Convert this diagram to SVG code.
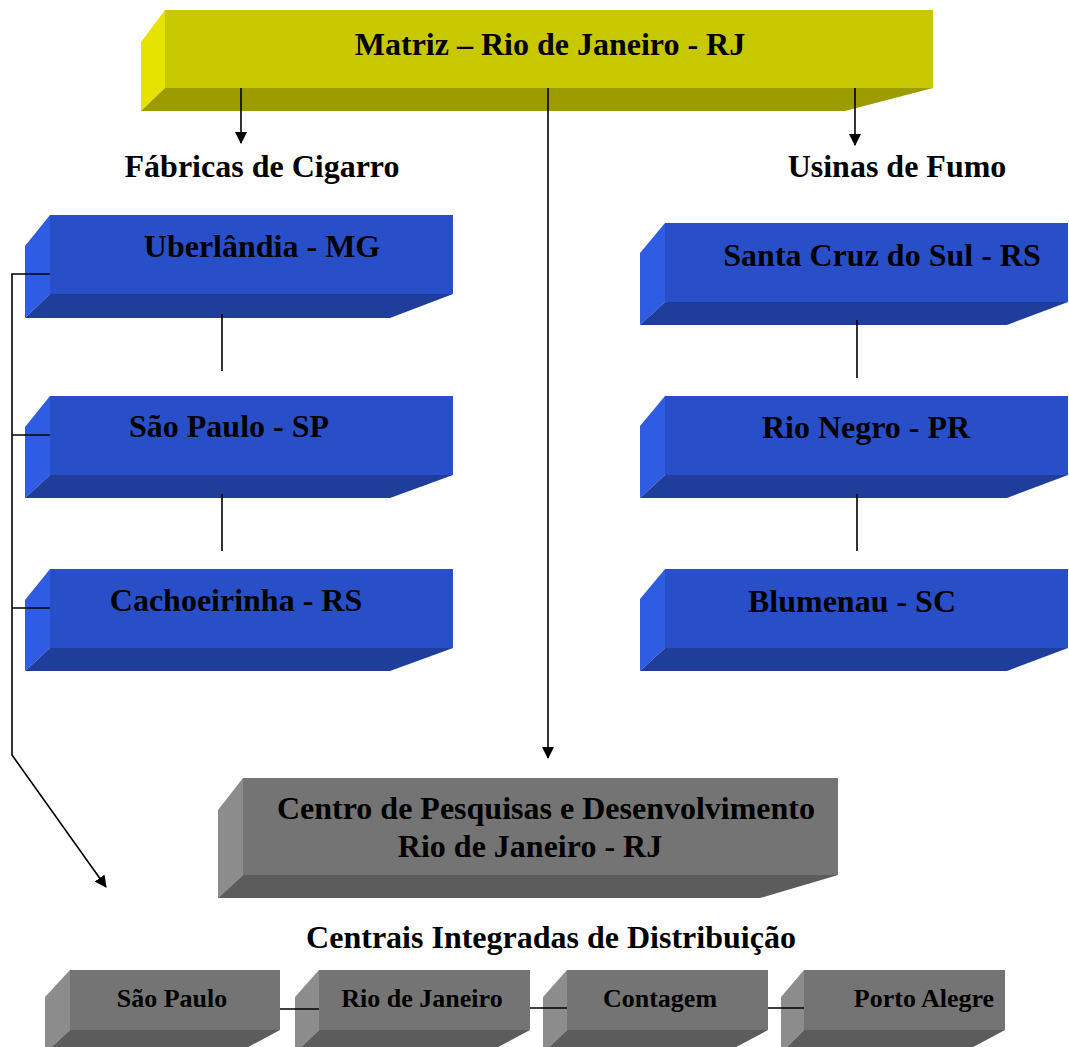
<svg xmlns="http://www.w3.org/2000/svg" width="1069" height="1047" viewBox="0 0 1069 1047">
<defs>
<style>
text{font-family:"Liberation Serif","Times New Roman",serif;font-weight:bold;fill:#000;text-anchor:middle}
.big{font-size:32px}
.sm{font-size:26px}
.yf{fill:#C8C800}.yl{fill:#E4E400}.yb{fill:#9C9C00}
.bf{fill:#284FC8}.bl{fill:#2E5CE2}.bb{fill:#1F3E9C}
.gf{fill:#747474}.gl{fill:#8C8C8C}.gb{fill:#5C5C5C}
.ln{stroke:#000;stroke-width:1.6;fill:none}
</style>
<marker id="ar" viewBox="0 0 12 12" refX="11" refY="6" markerWidth="12" markerHeight="12" markerUnits="userSpaceOnUse" orient="auto">
<path d="M0,0 L12,6 L0,12 Z" fill="#000"/>
</marker>
</defs>
<rect width="1069" height="1047" fill="#fff"/>

<g id="matriz">
<polygon class="yf" points="165,10 933,10 933,88 165,88"/>
<polygon class="yl" points="141,42 165,10 165,88 141,111"/>
<polygon class="yb" points="141,111 165,88 933,88 845,111"/>
<text class="big" x="550" y="55">Matriz – Rio de Janeiro - RJ</text>
</g>

<g id="lbl-fabricas"><text class="big" x="262" y="177">Fábricas de Cigarro</text></g>
<g id="lbl-usinas"><text class="big" x="897" y="177">Usinas de Fumo</text></g>

<g id="uberlandia">
<polygon class="bf" points="50,215 453,215 453,294 50,294"/>
<polygon class="bl" points="25,246 50,215 50,294 25,318"/>
<polygon class="bb" points="25,318 50,294 453,294 390,318"/>
<text class="big" x="262" y="257">Uberlândia - MG</text>
</g>
<g id="saopaulo-sp">
<polygon class="bf" points="50,396 453,396 453,475 50,475"/>
<polygon class="bl" points="25,427 50,396 50,475 25,498"/>
<polygon class="bb" points="25,498 50,475 453,475 390,498"/>
<text class="big" x="229" y="437">São Paulo - SP</text>
</g>
<g id="cachoeirinha">
<polygon class="bf" points="50,569 453,569 453,648 50,648"/>
<polygon class="bl" points="25,600 50,569 50,648 25,671"/>
<polygon class="bb" points="25,671 50,648 453,648 390,671"/>
<text class="big" x="236" y="611">Cachoeirinha - RS</text>
</g>

<g id="santacruz">
<polygon class="bf" points="665,223 1068,223 1068,302 665,302"/>
<polygon class="bl" points="640,253 665,223 665,302 640,325"/>
<polygon class="bb" points="640,325 665,302 1068,302 1007,325"/>
<text class="big" x="882" y="266">Santa Cruz do Sul - RS</text>
</g>
<g id="rionegro">
<polygon class="bf" points="665,396 1068,396 1068,475 665,475"/>
<polygon class="bl" points="640,426 665,396 665,475 640,498"/>
<polygon class="bb" points="640,498 665,475 1068,475 1007,498"/>
<text class="big" x="866" y="438">Rio Negro - PR</text>
</g>
<g id="blumenau">
<polygon class="bf" points="665,569 1068,569 1068,648 665,648"/>
<polygon class="bl" points="640,599 665,569 665,648 640,671"/>
<polygon class="bb" points="640,671 665,648 1068,648 1007,671"/>
<text class="big" x="852" y="612">Blumenau - SC</text>
</g>

<g id="centro">
<polygon class="gf" points="243,778 838,778 838,875 243,875"/>
<polygon class="gl" points="218,810 243,778 243,875 218,898"/>
<polygon class="gb" points="218,898 243,875 838,875 760,898"/>
<text class="big" x="546" y="819">Centro de Pesquisas e Desenvolvimento</text>
<text class="big" x="530" y="857">Rio de Janeiro - RJ</text>
</g>

<g id="lbl-centrais"><text class="big" x="551" y="948">Centrais Integradas de Distribuição</text></g>

<g id="cd-saopaulo">
<polygon class="gf" points="70,970 280,970 280,1030 70,1030"/>
<polygon class="gl" points="45,997 70,970 70,1030 45,1053"/>
<polygon class="gb" points="45,1053 70,1030 280,1030 237,1053"/>
<text class="sm" x="172" y="1007">São Paulo</text>
</g>
<g id="cd-rio">
<polygon class="gf" points="319,970 530,970 530,1030 319,1030"/>
<polygon class="gl" points="295,997 319,970 319,1030 295,1053"/>
<polygon class="gb" points="295,1053 319,1030 530,1030 487,1053"/>
<text class="sm" x="422" y="1007">Rio de Janeiro</text>
</g>
<g id="cd-contagem">
<polygon class="gf" points="567,970 768,970 768,1030 567,1030"/>
<polygon class="gl" points="543,997 567,970 567,1030 543,1053"/>
<polygon class="gb" points="543,1053 567,1030 768,1030 725,1053"/>
<text class="sm" x="660" y="1007">Contagem</text>
</g>
<g id="cd-portoalegre">
<polygon class="gf" points="804,970 1005,970 1005,1030 804,1030"/>
<polygon class="gl" points="781,997 804,970 804,1030 781,1053"/>
<polygon class="gb" points="781,1053 804,1030 1005,1030 962,1053"/>
<text class="sm" x="924" y="1007">Porto Alegre</text>
</g>

<g id="connectors">
<line class="ln" x1="241" y1="88" x2="241" y2="143" marker-end="url(#ar)"/>
<line class="ln" x1="855" y1="88" x2="855" y2="145" marker-end="url(#ar)"/>
<line class="ln" x1="548" y1="88" x2="548" y2="758" marker-end="url(#ar)"/>
<line class="ln" x1="222" y1="314" x2="222" y2="371"/>
<line class="ln" x1="222" y1="494" x2="222" y2="551"/>
<line class="ln" x1="857" y1="320" x2="857" y2="378"/>
<line class="ln" x1="857" y1="494" x2="857" y2="551"/>
<polyline class="ln" points="50,274 12,274 12,755 106,887" marker-end="url(#ar)"/>
<line class="ln" x1="12" y1="435" x2="50" y2="435"/>
<line class="ln" x1="12" y1="608" x2="50" y2="608"/>
<line class="ln" x1="280" y1="1009" x2="319" y2="1009"/>
<line class="ln" x1="530" y1="1008" x2="567" y2="1008"/>
<line class="ln" x1="768" y1="1008" x2="804" y2="1008"/>
</g>
</svg>
